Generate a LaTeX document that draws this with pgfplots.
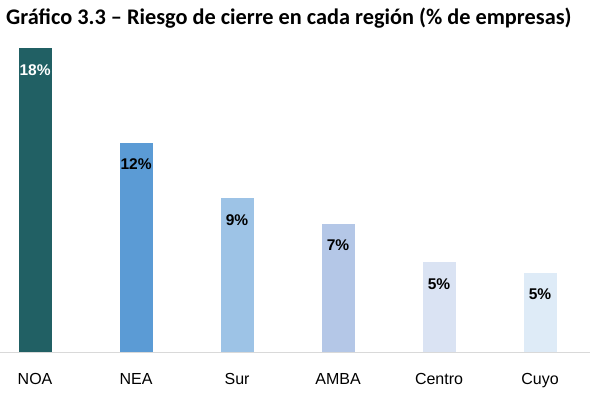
\documentclass[border=0pt]{standalone}
\usepackage{fontspec}
\setmainfont{Liberation Sans}
\newfontfamily\titlefont{Carlito}
\usepackage{pgfplots}
\pgfplotsset{compat=1.18}
\definecolor{cNOA}{HTML}{216064}
\definecolor{cNEA}{HTML}{5B9BD5}
\definecolor{cSur}{HTML}{9DC3E6}
\definecolor{cAMBA}{HTML}{B4C7E7}
\definecolor{cCentro}{HTML}{DAE3F3}
\definecolor{cCuyo}{HTML}{DEEBF7}
\definecolor{axgray}{HTML}{D9D9D9}
\begin{document}
\begin{tikzpicture}
\useasboundingbox (0,0) rectangle (606bp,397bp);
\node[anchor=west,inner sep=0pt] at (6bp,379bp) {\titlefont\bfseries\fontsize{22.3bp}{24bp}\selectfont Gráfico 3.3 – Riesgo de cierre en cada región (\% de empresas)};
\begin{axis}[
  at={(0bp,45bp)}, anchor=south west,
  scale only axis, width=590bp, height=304bp,
  xmin=-0.347, xmax=5.495, ymin=0, ymax=18,
  axis x line*=bottom, axis y line=none,
  x axis line style={axgray, line width=1bp, -},
  xtick={0,1,2,3,4,5},
  xticklabels={NOA,NEA,Sur,AMBA,Centro,Cuyo},
  major tick length=0pt,
  xticklabel style={font=\fontsize{16bp}{18bp}\selectfont, yshift=-18bp},
  ybar, bar width=33bp, bar shift=0pt,
  point meta=explicit symbolic,
  nodes near coords,
  every node near coord/.append style={anchor=center, yshift=-22bp, font=\bfseries\fontsize{15.5bp}{17bp}\selectfont},
  clip=false,
]
\addplot[draw=none, fill=cNOA, every node near coord/.append style={text=white}] coordinates {(0,18) [18\%]};
\addplot[draw=none, fill=cNEA] coordinates {(1,12.4) [12\%]};
\addplot[draw=none, fill=cSur] coordinates {(2,9.1) [9\%]};
\addplot[draw=none, fill=cAMBA] coordinates {(3,7.6) [7\%]};
\addplot[draw=none, fill=cCentro] coordinates {(4,5.3) [5\%]};
\addplot[draw=none, fill=cCuyo] coordinates {(5,4.7) [5\%]};
\end{axis}
\end{tikzpicture}
\end{document}
